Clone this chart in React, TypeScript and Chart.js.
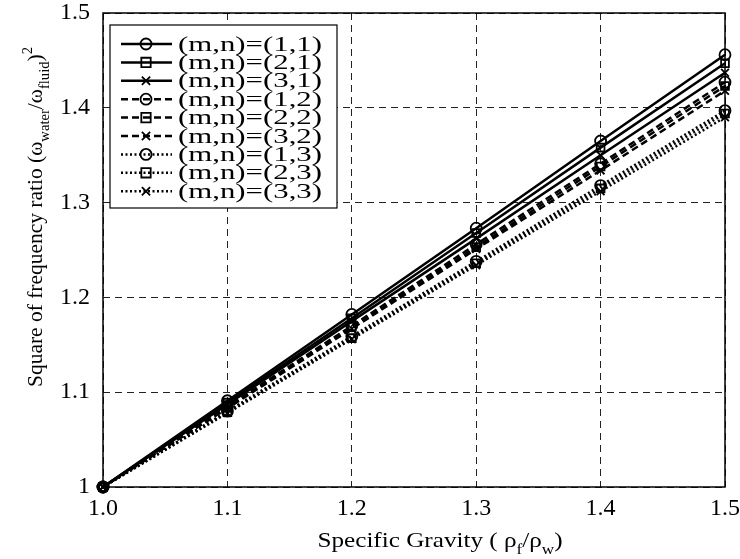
import React, { useEffect, useRef } from "react";
import { Chart, registerables } from "chart.js";

Chart.register(...registerables);

const specificGravity = [1.0, 1.1, 1.2, 1.3, 1.4, 1.5];
const seriesLabels = [
  "(m,n)=(1,1)", "(m,n)=(2,1)", "(m,n)=(3,1)",
  "(m,n)=(1,2)", "(m,n)=(2,2)", "(m,n)=(3,2)",
  "(m,n)=(1,3)", "(m,n)=(2,3)", "(m,n)=(3,3)",
];
const mn11 = [1.0, 1.091, 1.182, 1.273, 1.365, 1.456];
const mn21 = [1.0, 1.089, 1.178, 1.268, 1.358, 1.447];
const mn31 = [1.0, 1.087, 1.175, 1.262, 1.350, 1.437];
const mn12 = [1.0, 1.085, 1.170, 1.256, 1.341, 1.427];
const mn22 = [1.0, 1.084, 1.169, 1.253, 1.338, 1.423];
const mn32 = [1.0, 1.083, 1.167, 1.251, 1.334, 1.418];
const mn13 = [1.0, 1.080, 1.159, 1.238, 1.318, 1.397];
const mn23 = [1.0, 1.079, 1.157, 1.236, 1.315, 1.394];
const mn33 = [1.0, 1.078, 1.156, 1.234, 1.312, 1.390];
const seriesValues = [mn11, mn21, mn31, mn12, mn22, mn32, mn13, mn23, mn33];

const markers = ["circle", "rect", "crossRot"];
const dashes = [[], [7, 4], [2, 2.5]];
const FONT = "'Liberation Serif', 'Times New Roman', serif";

type Seg = { t: string; m?: "sub" | "sup" };

function drawRich(ctx: CanvasRenderingContext2D, segs: Seg[], x: number, y: number, size: number, targetWidth: number) {
  const small = Math.round(size * 0.7);
  let total = 0;
  for (const s of segs) {
    ctx.font = `${s.m ? small : size}px ${FONT}`;
    total += ctx.measureText(s.t).width;
  }
  const sx = targetWidth / total;
  ctx.save();
  ctx.translate(x - targetWidth / 2, y);
  ctx.scale(sx, 1);
  let cx = 0;
  ctx.textAlign = "left";
  ctx.textBaseline = "alphabetic";
  for (const s of segs) {
    ctx.font = `${s.m ? small : size}px ${FONT}`;
    const dy = s.m === "sub" ? size * 0.3 : s.m === "sup" ? -size * 0.45 : 0;
    ctx.fillText(s.t, cx, dy);
    cx += ctx.measureText(s.t).width;
  }
  ctx.restore();
}

function drawMarker(ctx: CanvasRenderingContext2D, style: string, x: number, y: number, r: number) {
  ctx.beginPath();
  if (style === "circle") {
    ctx.arc(x, y, r, 0, Math.PI * 2);
  } else if (style === "rect") {
    ctx.rect(x - r * 0.85, y - r * 0.85, r * 1.7, r * 1.7);
  } else {
    const d = r * 0.75;
    ctx.moveTo(x - d, y - d); ctx.lineTo(x + d, y + d);
    ctx.moveTo(x + d, y - d); ctx.lineTo(x - d, y + d);
  }
  ctx.stroke();
}

const decorPlugin = {
  id: "decor",
  afterDraw(chart: any) {
    const ctx: CanvasRenderingContext2D = chart.ctx;
    const a = chart.chartArea;
    ctx.save();
    ctx.setLineDash([]);
    ctx.strokeStyle = "#000";
    ctx.lineWidth = 1.5;
    ctx.strokeRect(a.left, a.top, a.right - a.left, a.bottom - a.top);

    // legend
    const lx = 110, ly = 25, lw = 227, lh = 183;
    ctx.fillStyle = "#fff";
    ctx.fillRect(lx, ly, lw, lh);
    ctx.lineWidth = 1.2;
    ctx.strokeRect(lx, ly, lw, lh);
    const rowH = 18.4;
    seriesLabels.forEach((lab, i) => {
      const y = ly + 19 + i * rowH;
      const n = Math.floor(i / 3);
      const m = i % 3;
      ctx.strokeStyle = "#000";
      ctx.lineWidth = 2.5;
      ctx.setLineDash(dashes[n]);
      ctx.beginPath();
      ctx.moveTo(121, y);
      ctx.lineTo(172, y);
      ctx.stroke();
      ctx.setLineDash([]);
      ctx.lineWidth = 1.8;
      drawMarker(ctx, markers[m], 146, y, 5.5);
      ctx.fillStyle = "#000";
      ctx.font = `21px ${FONT}`;
      ctx.textAlign = "left";
      ctx.textBaseline = "middle";
      const w = ctx.measureText(lab).width;
      ctx.save();
      ctx.translate(178, y + 1);
      ctx.scale(144 / w, 1);
      ctx.fillText(lab, 0, 0);
      ctx.restore();
    });

    // axis titles
    ctx.fillStyle = "#000";
    drawRich(ctx, [
      { t: "Specific Gravity ( \u03c1" }, { t: "f", m: "sub" }, { t: "/\u03c1" }, { t: "w", m: "sub" }, { t: ")" },
    ], 440, 547, 22, 245);
    ctx.save();
    ctx.translate(42, 217);
    ctx.rotate(-Math.PI / 2);
    drawRich(ctx, [
      { t: "Square of frequency ratio (\u03c9" }, { t: "water", m: "sub" }, { t: "/\u03c9" }, { t: "fluid", m: "sub" }, { t: ")" }, { t: "2", m: "sup" },
    ], 0, 0, 22, 340);
    ctx.restore();
    ctx.restore();
  },
};

export default function App() {
  const ref = useRef<HTMLCanvasElement | null>(null);
  useEffect(() => {
    if (!ref.current) return;
    const datasets = seriesValues.map((vals, i) => {
      const n = Math.floor(i / 3);
      const m = i % 3;
      return {
        label: seriesLabels[i],
        data: specificGravity.map((x, k) => ({ x, y: vals[k] })),
        borderColor: "#000",
        borderWidth: 2.5,
        borderDash: dashes[n],
        pointStyle: markers[m],
        pointRadius: 5.5,
        pointBorderWidth: 1.8,
        pointBorderColor: "#000",
        pointBackgroundColor: "rgba(0,0,0,0)",
        fill: false,
        tension: 0,
        clip: false as any,
      };
    });
    const chart = new Chart(ref.current, {
      type: "line",
      data: { datasets },
      options: {
        animation: false,
        responsive: false,
        layout: { padding: { top: 13, right: 15, left: 0, bottom: 0 } },
        plugins: { legend: { display: false }, tooltip: { enabled: false } },
        scales: {
          x: {
            type: "linear",
            min: 1.0,
            max: 1.5,
            afterFit: (s: any) => { s.height = 72; s.paddingLeft = 0; s.paddingRight = 0; },
            ticks: {
              stepSize: 0.1,
              padding: 7,
              color: "#000",
              font: { family: FONT, size: 24 },
              callback: (v: any) => Number(v).toFixed(1),
            },
            grid: { color: "#222", lineWidth: 1, drawTicks: false },
            border: { display: false, dash: [7, 5] },
          },
          y: {
            type: "linear",
            min: 1.0,
            max: 1.5,
            afterFit: (s: any) => { s.width = 103; s.paddingTop = 0; s.paddingBottom = 0; },
            ticks: {
              stepSize: 0.1,
              padding: 13,
              color: "#000",
              font: { family: FONT, size: 24 },
              callback: (v: any) => (Math.abs(Number(v) - 1) < 1e-9 ? "1" : Number(v).toFixed(1)),
            },
            grid: { color: "#222", lineWidth: 1, drawTicks: false },
            border: { display: false, dash: [7, 5] },
          },
        },
      } as any,
      plugins: [decorPlugin],
    });
    return () => chart.destroy();
  }, []);
  return (
    <canvas
      ref={ref}
      width={740}
      height={559}
      style={{ position: "absolute", left: 0, top: 0, width: 740, height: 559, background: "#fff" }}
    />
  );
}
